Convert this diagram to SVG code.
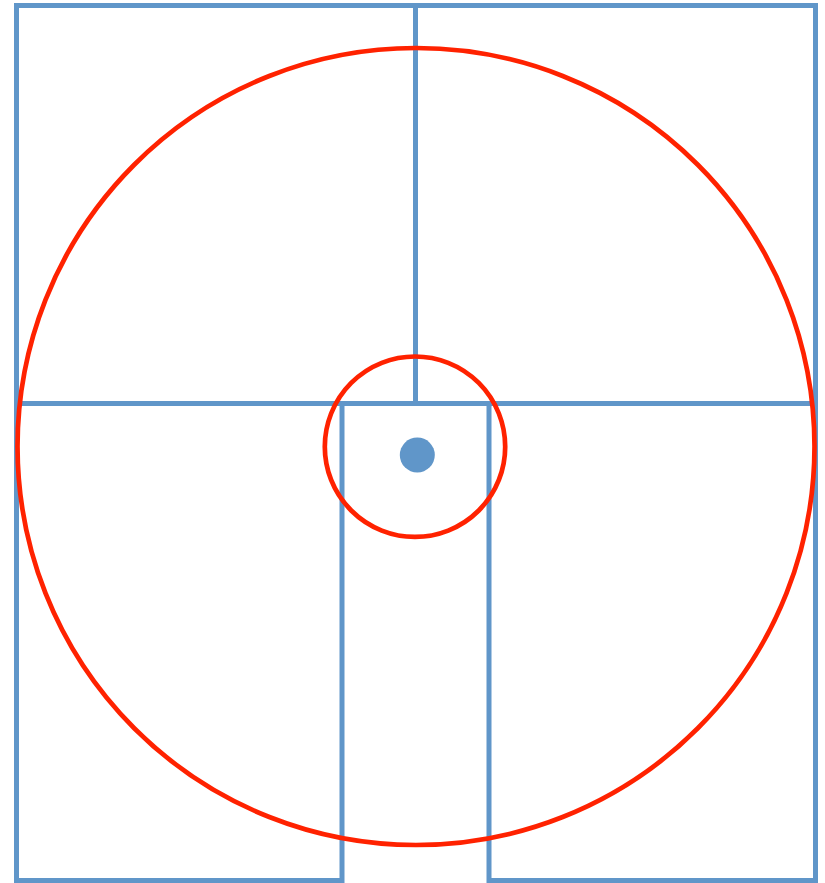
<svg xmlns="http://www.w3.org/2000/svg" width="825" height="883" viewBox="0 0 825 883">
<style>
.b{fill:none;stroke:#6096c9;stroke-width:5}
.r{fill:none;stroke:#ff2200;stroke-width:4.7}
</style>
<rect width="825" height="883" fill="#fff"/>
<g id="grid">
<path class="b" d="M342 403.5 V880.5 H16.5 V5.5 H815.5 V880.5 H489 V403.5"/>
<path class="b" d="M16.5 403.5 H815.5"/>
<path class="b" d="M415.5 5.5 V403.5"/>
</g>
<g id="outer-circle"><circle class="r" cx="416" cy="446.5" r="398.5"/></g>
<g id="inner-circle"><circle class="r" cx="415" cy="446.7" r="90.2"/></g>
<g id="dot"><circle cx="417.3" cy="455" r="17.5" fill="#6096c9"/></g>
</svg>
